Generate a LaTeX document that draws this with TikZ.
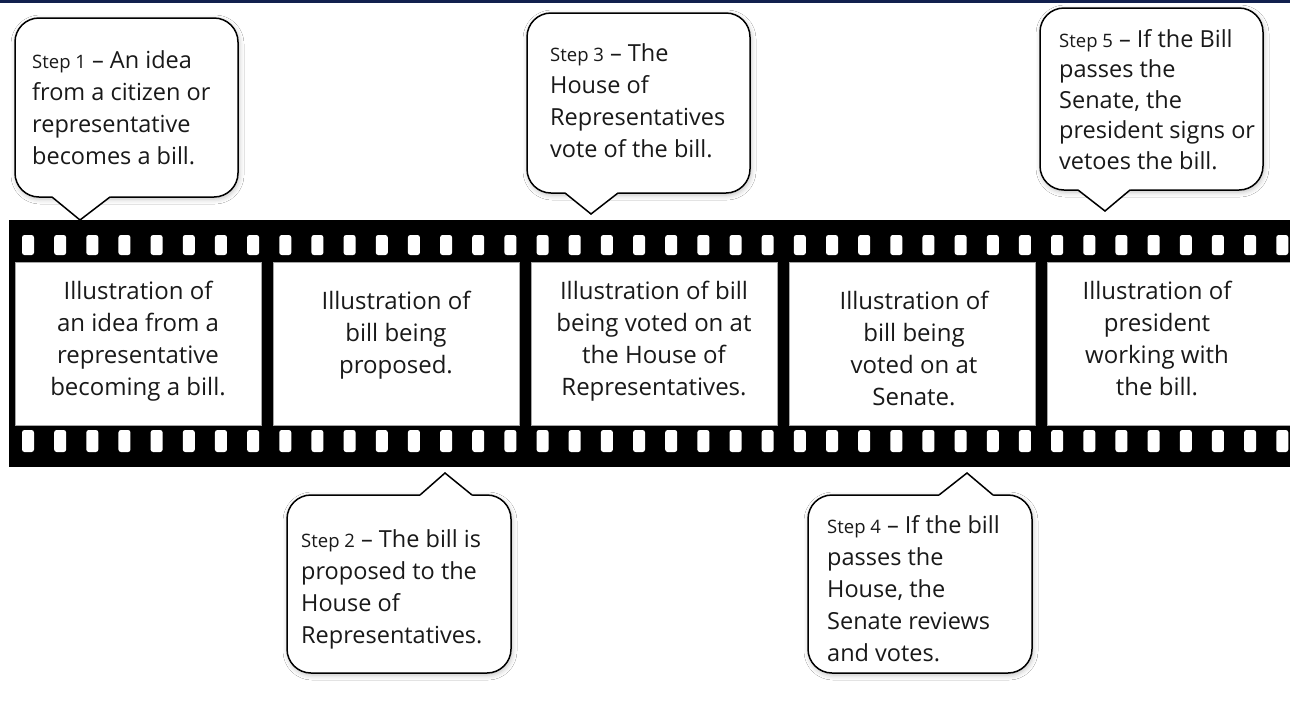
\documentclass[tikz,border=0pt]{standalone}
\usepackage{fontspec}
\setmainfont{Open Sans}
\usetikzlibrary{shadows.blur}
\definecolor{navy}{RGB}{18,32,78}
\tikzset{
 bubble/.style={draw=black, line width=1.5pt, fill=white, rounded corners=24pt, inner sep=0pt,
   blur shadow={shadow blur radius=5pt, shadow xshift=1pt, shadow yshift=-2pt, shadow opacity=25}},
 bubtext/.style={anchor=north west, inner sep=0pt, align=left, font=\fontsize{23.5}{32}\selectfont, text=black!90},
 filmframe/.style={fill=white, draw=black!35, line width=1pt, minimum width=246pt, minimum height=163pt, inner sep=0pt},
 frametext/.style={anchor=north, inner sep=0pt, align=center, font=\fontsize{24}{32}\selectfont, text=black!90},
 hole/.style={fill=white, rounded corners=2.5pt},
 ptr/.style={draw=black, line width=1.5pt, line join=miter},
}
\newcommand{\stp}[1]{{\fontsize{18.5}{32}\selectfont #1}}
\newcommand{\fs}{\rule{0pt}{24pt}}
\begin{document}
\begin{tikzpicture}[x=1pt,y=-1pt]
\path[use as bounding box] (0,0) rectangle (1290,713);
\clip (0,0) rectangle (1290,713);
\fill[white] (0,0) rectangle (1290,713);
\fill[navy] (0,0) rectangle (1290,3);
% film strip
\fill[black] (9,220) rectangle (1300,467);
\foreach \k in {0,...,39} {
  \fill[hole] ({22+32.16*\k},235) rectangle ++(12,20);
  \fill[hole] ({22+32.16*\k},430) rectangle ++(12,22);
}
\node[filmframe] (f1) at (138,343.5) {};
\node[filmframe] (f2) at (396,343.5) {};
\node[filmframe] (f3) at (654,343.5) {};
\node[filmframe] (f4) at (912,343.5) {};
\node[filmframe] (f5) at (1170,343.5) {};
\node[frametext] (l1) at (138,275) {\fs Illustration of\\an idea from a\\representative\\becoming a bill.};
\node[frametext] (l2) at (396,285) {\fs Illustration of\\bill being\\proposed.};
\node[frametext] (l3) at (654,275) {\fs Illustration of bill\\being voted on at\\the House of\\Representatives.};
\node[frametext] (l4) at (914,285) {\fs Illustration of\\bill being\\voted on at\\Senate.};
\node[frametext] (l5) at (1157,275) {\fs Illustration of\\president\\working with\\the bill.};
% callout 1
\node[bubble, minimum width=223pt, minimum height=179pt] (b1) at (126.5,107.5) {};
\coordinate (p1) at (80,220);
\fill[white] (52,193) -- (52,197) -- (p1) -- (110,197) -- (110,193) -- cycle;
\draw[ptr] (52,197) -- (p1) -- (110,197);
\node[bubtext] (s1) at (32,44) {\fs\stp{Step 1} – An idea\\from a citizen or\\representative\\becomes a bill.};
% callout 3
\node[bubble, minimum width=223pt, minimum height=180pt] (b3) at (638.5,103) {};
\coordinate (p3) at (591,214);
\fill[white] (565,189) -- (565,193) -- (p3) -- (618,193) -- (618,189) -- cycle;
\draw[ptr] (565,193) -- (p3) -- (618,193);
\node[bubtext] (s3) at (550,37) {\fs\stp{Step 3} – The\\House of\\Representatives\\vote of the bill.};
% callout 5
\node[bubble, minimum width=223pt, minimum height=182pt] (b5) at (1151.5,99) {};
\coordinate (p5) at (1105,211);
\fill[white] (1078,186) -- (1078,190) -- (p5) -- (1130,190) -- (1130,186) -- cycle;
\draw[ptr] (1078,190) -- (p5) -- (1130,190);
\node[bubtext, font=\fontsize{23.5}{30.5}\selectfont] (s5) at (1059,23) {\fs\stp{Step 5} – If the Bill\\passes the\\Senate, the\\president signs or\\vetoes the bill.};
% callout 2
\node[bubble, minimum width=224pt, minimum height=178pt] (b2) at (399,584) {};
\coordinate (p2) at (445,473);
\fill[white] (420,499) -- (420,495) -- (p2) -- (472,495) -- (472,499) -- cycle;
\draw[ptr] (420,495) -- (p2) -- (472,495);
\node[bubtext] (s2) at (301,523) {\fs\stp{Step 2} – The bill is\\proposed to the\\House of\\Representatives.};
% callout 4
\node[bubble, minimum width=224pt, minimum height=178pt] (b4) at (920,584) {};
\coordinate (p4) at (967,473);
\fill[white] (939,499) -- (939,495) -- (p4) -- (993,495) -- (993,499) -- cycle;
\draw[ptr] (939,495) -- (p4) -- (993,495);
\node[bubtext] (s4) at (827,509) {\fs\stp{Step 4} – If the bill\\passes the\\House, the\\Senate reviews\\and votes.};
\end{tikzpicture}
\end{document}
